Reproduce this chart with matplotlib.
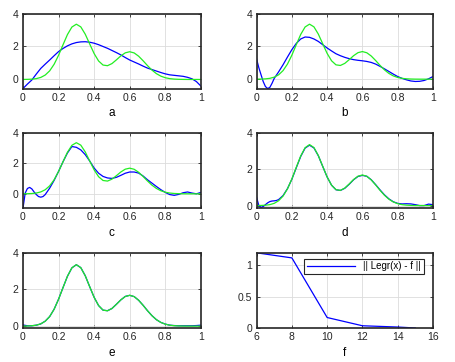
import numpy as np
import matplotlib
matplotlib.use("Agg")
import matplotlib.pyplot as plt

plt.rcParams['font.family'] = ['Liberation Sans', 'DejaVu Sans']

# sample grid 0..1 step 0.025
x = [i * 0.025 for i in range(41)]

# target function f (green), same in every panel
f = [0.002, 0.007, 0.019, 0.051, 0.123, 0.267, 0.522, 0.921, 1.466, 2.104,
     2.725, 3.182, 3.353, 3.190, 2.747, 2.154, 1.570, 1.121, 0.874, 0.835,
     0.962, 1.188, 1.431, 1.616, 1.682, 1.609, 1.412, 1.137, 0.839, 0.568,
     0.352, 0.200, 0.105, 0.050, 0.022, 0.009, 0.003, 0.001, 0.0, 0.0, 0.0]

# legendre approximations (blue)
xa = x
la = [-0.55, -0.28, -0.03, 0.33, 0.67, 0.93, 1.18, 1.44, 1.69, 1.88,
      2.04, 2.16, 2.24, 2.28, 2.29, 2.26, 2.20, 2.11, 2.00, 1.89,
      1.76, 1.63, 1.49, 1.33, 1.18, 1.06, 0.94, 0.81, 0.69, 0.60,
      0.51, 0.42, 0.34, 0.28, 0.25, 0.22, 0.19, 0.13, 0.04, -0.13, -0.40]

xb = [0, 0.0125, 0.025, 0.0375, 0.05, 0.0625, 0.075, 0.0875] + x[4:]
lb = [1.22, 0.70, 0.27, -0.15, -0.45, -0.57, -0.50, -0.25,
      0.05, 0.45, 0.88, 1.35, 1.80, 2.18, 2.45, 2.57, 2.55, 2.45,
      2.30, 2.10, 1.90, 1.72, 1.55, 1.43, 1.33, 1.25, 1.19, 1.15,
      1.12, 1.08, 1.02, 0.92, 0.78, 0.63, 0.47, 0.31, 0.16, 0.05,
      -0.04, -0.11, -0.14, -0.13, -0.08, 0.02, 0.16]

xc = [0, 0.0125, 0.025, 0.0375, 0.05, 0.0625, 0.075, 0.0875, 0.1, 0.1125] + x[5:]
lc = [-0.95, 0.05, 0.35, 0.42, 0.32, 0.12, -0.05, -0.18, -0.22, -0.18,
      -0.05, 0.37, 0.88, 1.47, 2.10, 2.68, 3.10, 3.05, 2.88, 2.57,
      2.15, 1.69, 1.35, 1.14, 1.04, 1.01, 1.08, 1.21, 1.35, 1.43,
      1.43, 1.36, 1.17, 0.92, 0.70, 0.48, 0.27, 0.09, -0.05, -0.10,
      -0.04, 0.07, 0.12, 0.05, 0.00, 0.09]

xd = xc
ld = [0.45, 0.00, -0.10, -0.05, 0.05, 0.15, 0.22, 0.25, 0.26, 0.28,
      0.33, 0.55, 0.93, 1.45, 2.08, 2.70, 3.16, 3.32, 3.17, 2.74,
      2.15, 1.57, 1.12, 0.87, 0.83, 0.95, 1.17, 1.42, 1.60, 1.66,
      1.61, 1.42, 1.15, 0.86, 0.59, 0.37, 0.21, 0.12, 0.09, 0.10,
      0.09, 0.05, 0.00, 0.00, 0.08, 0.05]

xe = x
le = [0.06, 0.02, 0.02, 0.05, 0.12, 0.27, 0.52, 0.92, 1.47, 2.10,
      2.72, 3.18, 3.35, 3.19, 2.75, 2.15, 1.57, 1.12, 0.87, 0.84,
      0.96, 1.19, 1.43, 1.62, 1.68, 1.61, 1.41, 1.14, 0.84, 0.57,
      0.35, 0.20, 0.11, 0.05, 0.03, 0.02, 0.02, 0.02, 0.02, 0.03, 0.05]

# error norm vs degree
deg = [6, 8, 10, 12, 14, 15]
err = [1.19, 1.11, 0.17, 0.04, 0.02, 0.005]

panels = [(xa, la, -0.58, 'a'), (xb, lb, -0.6, 'b'), (xc, lc, -0.95, 'c'),
          (xd, ld, -0.15, 'd'), (xe, le, -0.12, 'e')]

fig = plt.figure(figsize=(4.55, 3.62), dpi=100)
lefts = [0.0505, 0.564]
bottoms = [0.7541, 0.4246, 0.0931]
widths = [0.391, 0.3875]
h = 0.2085

def style(ax):
    ax.grid(True, color='#dcdcdc', linewidth=0.6)
    ax.set_axisbelow(True)
    for s in ax.spines.values():
        s.set_linewidth(1.2)
        s.set_color('#262626')
    ax.tick_params(direction='in', length=2.5, width=0.6, labelsize=7.5,
                   top=True, right=True, pad=3, colors='#262626')

for i, (xx, ll, ymin, lab) in enumerate(panels):
    r, c = divmod(i, 2)
    ax = fig.add_axes([lefts[c], bottoms[r], widths[c], h])
    ax.plot(xx, ll, color='#0000ff', linewidth=0.9)
    ax.plot(x, f, color='#22ee22', linewidth=0.9)
    ax.set_xlim(0, 1)
    ax.set_ylim(ymin, 4)
    ax.set_xticks([0, 0.2, 0.4, 0.6, 0.8, 1])
    ax.set_xticklabels(['0', '0.2', '0.4', '0.6', '0.8', '1'])
    ax.set_yticks([0, 2, 4])
    ax.set_xlabel(lab, fontsize=8.5, labelpad=3)
    style(ax)

ax = fig.add_axes([lefts[1], bottoms[2], widths[1], h])
ax.plot(deg, err, color='#0000ff', linewidth=0.9, label='|| Legr(x) - f ||')
ax.set_xlim(6, 16)
ax.set_ylim(0, 1.19)
ax.set_xticks([6, 8, 10, 12, 14, 16])
ax.set_yticks([0, 0.5, 1])
ax.set_yticklabels(['0', '0.5', '1'])
ax.set_xlabel('f', fontsize=8.5, labelpad=3)
style(ax)
leg = ax.legend(loc='upper right', bbox_to_anchor=(0.949, 0.924), borderaxespad=0,
                fontsize=7, fancybox=False, edgecolor='#262626', framealpha=1,
                handlelength=5, borderpad=0.3)
leg.get_frame().set_linewidth(0.8)

fig.savefig('out.png', dpi=100)
